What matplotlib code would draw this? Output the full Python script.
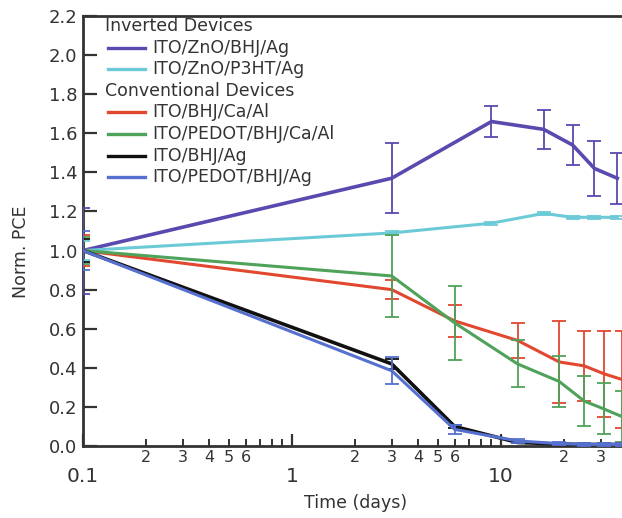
import matplotlib
matplotlib.use("Agg")
import matplotlib.pyplot as plt
from matplotlib.ticker import FixedLocator, FuncFormatter
import numpy as np

plt.rcParams["font.family"] = ["DejaVu Sans"]

# inverted devices
t_inv = [0.1, 3, 9, 16, 22, 28, 36]
zno_bhj = [1.0, 1.37, 1.66, 1.62, 1.54, 1.42, 1.37]
zno_bhj_err = [0.22, 0.18, 0.08, 0.10, 0.10, 0.14, 0.13]
zno_p3ht = [1.0, 1.09, 1.14, 1.19, 1.17, 1.17, 1.17]
zno_p3ht_err = [0.05, 0.008, 0.008, 0.008, 0.008, 0.008, 0.008]

# conventional devices
t_conv = [0.1, 3, 6, 12, 19, 25, 31, 38]
bhj_ca = [1.0, 0.80, 0.64, 0.54, 0.43, 0.41, 0.37, 0.34]
bhj_ca_err = [0.08, 0.05, 0.08, 0.09, 0.21, 0.18, 0.22, 0.25]
pedot_ca = [1.0, 0.87, 0.63, 0.42, 0.33, 0.23, 0.19, 0.15]
pedot_ca_err = [0.07, 0.21, 0.19, 0.12, 0.13, 0.13, 0.13, 0.13]
bhj_ag = [1.0, 0.42, 0.10, 0.018, 0.01, 0.008, 0.008, 0.008]
bhj_ag_err = [0.06, 0.025, 0.01, 0.005, 0.005, 0.005, 0.005, 0.005]
pedot_ag = [1.0, 0.385, 0.085, 0.026, 0.012, 0.008, 0.008, 0.008]
pedot_ag_err = [0.10, 0.07, 0.025, 0.01, 0.008, 0.008, 0.008, 0.008]

labels = ["ITO/ZnO/BHJ/Ag", "ITO/ZnO/P3HT/Ag", "ITO/BHJ/Ca/Al",
          "ITO/PEDOT/BHJ/Ca/Al", "ITO/BHJ/Ag", "ITO/PEDOT/BHJ/Ag"]
colors = ["#5a49ae", "#6ccad6", "#e2472f", "#4fa25a", "#111111", "#5670d0"]
TXT = "#333333"

W, H = 622, 518
fig = plt.figure(figsize=(W / 100, H / 100), dpi=100)


def fx(px):
    return px / W


def fy(py):
    return 1 - py / H


x0, x_dec = 83, 209
xmax = 10 ** (-1 + (650 - x0) / x_dec)
ax = fig.add_axes([fx(x0), fy(446), fx(650 - x0), (446 - 16) / H])
ax.set_xscale("log")
ax.set_xlim(0.1, xmax)
ax.set_ylim(0, 2.2)

series = [
    (t_inv, zno_bhj, zno_bhj_err),
    (t_inv, zno_p3ht, zno_p3ht_err),
    (t_conv, bhj_ca, bhj_ca_err),
    (t_conv, pedot_ca, pedot_ca_err),
    (t_conv, bhj_ag, bhj_ag_err),
    (t_conv, pedot_ag, pedot_ag_err),
]
order = [1, 2, 3, 5, 4, 0]
for i in order:
    t, y, e = series[i]
    lw = 2.6 if i in (0, 4) else 2.2
    ax.errorbar(t, y, yerr=e, color=colors[i], lw=lw, elinewidth=1.3,
                capsize=5, capthick=1.3, zorder=3 + i)

for s in ["left", "bottom", "top"]:
    ax.spines[s].set_linewidth(2.0)
    ax.spines[s].set_color(TXT)
ax.spines["right"].set_visible(False)

yt = np.arange(0, 2.21, 0.2)
ax.set_yticks(yt)
ax.set_yticklabels([f"{v:.1f}" for v in yt])
ax.tick_params(axis="y", direction="in", length=10, width=1.6, labelsize=13,
               colors=TXT, pad=4, left=True, right=False)

ax.xaxis.set_major_locator(FixedLocator([0.1, 1, 10]))
ax.xaxis.set_major_formatter(FuncFormatter(lambda v, p: f"{v:g}"))
minors = [m * d for d in (0.1, 1, 10) for m in range(2, 10)]
ax.xaxis.set_minor_locator(FixedLocator(minors))


def minor_fmt(v, p):
    m = int(round(v / 10 ** np.floor(np.log10(v) + 1e-9)))
    return str(m) if m <= 6 else ""


ax.xaxis.set_minor_formatter(FuncFormatter(minor_fmt))
ax.tick_params(axis="x", which="major", direction="in", length=9, width=1.6,
               labelsize=14.5, pad=15, colors=TXT, top=False)
ax.tick_params(axis="x", which="minor", direction="in", length=5, width=1.4,
               labelsize=11.5, pad=3, colors=TXT, top=False)

fig.text(fx(356), fy(503), "Time (days)", ha="center", va="center",
         fontsize=12.5, color=TXT)
fig.text(fx(21), fy(252), "Norm. PCE", ha="center", va="center",
         rotation=90, fontsize=12.5, color=TXT)

# legend
rows = [("Inverted Devices", None), (labels[0], 0), (labels[1], 1),
        ("Conventional Devices", None), (labels[2], 2), (labels[3], 3),
        (labels[4], 4), (labels[5], 5)]
for k, (txt, ci) in enumerate(rows):
    py = 26 + k * 21.6
    if ci is None:
        fig.text(fx(105), fy(py), txt, ha="left", va="center",
                 fontsize=12.5, color=TXT)
    else:
        fig.add_artist(plt.Line2D([fx(108), fx(145)], [fy(py), fy(py)],
                                  color=colors[ci], lw=2.4))
        fig.text(fx(152), fy(py), txt, ha="left", va="center",
                 fontsize=12.5, color=TXT)

fig.savefig("out.png", dpi=100)
